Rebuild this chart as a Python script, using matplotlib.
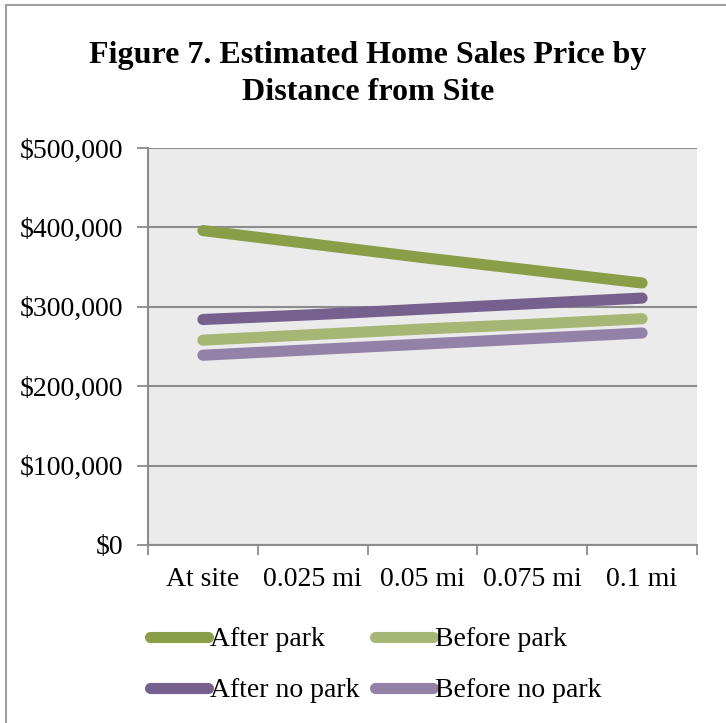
import matplotlib.pyplot as plt
from matplotlib.patches import Rectangle
from matplotlib.ticker import FuncFormatter

# category labels along x
distances = ['At site', '0.025 mi', '0.05 mi', '0.075 mi', '0.1 mi']

# estimated sales price per distance
after_park = [396000, 379000, 362000, 346000, 330000]
before_park = [258000, 265000, 272000, 278000, 285000]
after_no_park = [284000, 290000, 297000, 304000, 311000]
before_no_park = [239000, 246000, 253000, 260000, 267000]

series = [
    ('After park', after_park, '#8a9e48'),
    ('Before park', before_park, '#a6b675'),
    ('After no park', after_no_park, '#76608e'),
    ('Before no park', before_no_park, '#9381a8'),
]

plt.rcParams['font.family'] = ['Liberation Serif', 'DejaVu Serif']

fig = plt.figure(figsize=(7.26, 7.23), dpi=100)
ax = fig.add_axes([148 / 726, 1 - 545 / 723, 549 / 726, 397 / 723])
ax.set_facecolor('#ebebeb')

x = list(range(len(distances)))
lines = {}
for name, vals, color in series:
    ln, = ax.plot(x, vals, color=color, lw=8, solid_capstyle='round',
                  label=name, zorder=3)
    lines[name] = ln

ax.set_xlim(-0.5, len(distances) - 0.5)
ax.set_ylim(0, 500000)
ax.set_yticks(range(0, 500001, 100000))
ax.yaxis.set_major_formatter(FuncFormatter(lambda v, p: '${:,.0f}'.format(v)))
ax.grid(axis='y', color='#8c8c8c', lw=1.5, zorder=1)

# ticks on category boundaries, labels at centres
ax.set_xticks([i - 0.5 for i in range(len(distances) + 1)])
ax.set_xticklabels([])
ax.set_xticks(x, minor=True)
ax.set_xticklabels(distances, minor=True)
ax.tick_params(axis='x', which='minor', length=0, pad=16, labelsize=20)
ax.tick_params(axis='x', which='major', length=7, width=1.3, color='#8c8c8c')
ax.tick_params(axis='y', length=8, width=1.3, color='#8c8c8c', labelsize=20, pad=10)

for side in ['top', 'right']:
    ax.spines[side].set_visible(False)
for side in ['left', 'bottom']:
    ax.spines[side].set_color('#8c8c8c')
    ax.spines[side].set_linewidth(1.5)

fig.text(368 / 726, 1 - 74 / 723, 'Figure 7. Estimated Home Sales Price by\nDistance from Site',
         ha='center', va='center', fontsize=23, fontweight='bold', linespacing=1.32)

order = ['After park', 'After no park', 'Before park', 'Before no park']
fig.legend([lines[n] for n in order], order, ncol=2, frameon=False,
           loc='upper left', bbox_to_anchor=(150 / 726, 1 - 627 / 723),
           fontsize=20, handlelength=2.1, handletextpad=0.05,
           columnspacing=0.57, labelspacing=0.92, borderaxespad=0, borderpad=0)

# outer frame of the chart
fig.patches.append(Rectangle((6 / 726, -0.1), 1.2, 1 - 5 / 723 + 0.1,
                             transform=fig.transFigure, fill=False,
                             edgecolor='#a0a0a0', lw=1.5))

fig.savefig('out.png', dpi=100)
